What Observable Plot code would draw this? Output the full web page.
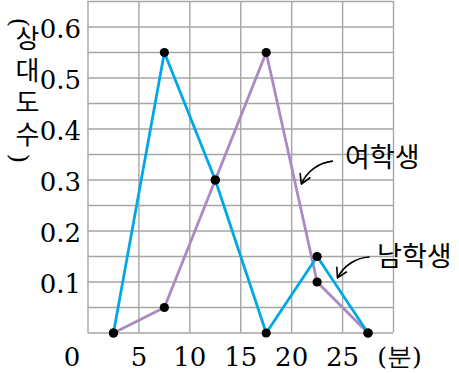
<!DOCTYPE html>
<html>
<head>
<meta charset="utf-8">
<script src="https://cdn.jsdelivr.net/npm/d3@7"></script>
<script src="https://cdn.jsdelivr.net/npm/@observablehq/plot@0.6"></script>
<style>
  html, body { margin: 0; padding: 0; background: #fff; }
</style>
</head>
<body>
<div id="chart"></div>
<script>
// Class midpoints (minutes)
const minutes = [2.5, 7.5, 12.5, 17.5, 22.5, 27.5];
// Relative frequencies
const boys  = [0, 0.55, 0.3, 0, 0.15, 0];   // 남학생
const girls = [0, 0.05, 0.3, 0.55, 0.1, 0]; // 여학생

const xTicks = [5, 10, 15, 20, 25];
const yTicks = [0.1, 0.2, 0.3, 0.4, 0.5, 0.6];
const xGrid = [0, 5, 10, 15, 20, 25, 30];
const yGrid = d3.range(0, 14).map(i => +(i * 0.05).toFixed(2));

const yLabel = "상\n대\n도\n수";
const yParens = ["(", ")"];
const xUnit = "(분)";

// annotations (data units)
const labels = [
  {text: "여학생", x: 28.9, y: 0.342},
  {text: "남학생", x: 32.05, y: 0.149}
];
const arrows = [
  {x1: 24.0, y1: 0.337, x2: 20.95, y2: 0.292},
  {x1: 27.6, y1: 0.149, x2: 24.5, y2: 0.108}
];

const boyData = minutes.map((m, i) => ({x: m, y: boys[i]}));
const girlData = minutes.map((m, i) => ({x: m, y: girls[i]}));

const serif = "DejaVu Serif";
const kr = "Noto Sans CJK KR";

const plot = Plot.plot({
  width: 459,
  height: 374,
  marginLeft: 87.5,
  marginRight: 66,
  marginTop: 1,
  marginBottom: 41.5,
  x: {domain: [0, 30], axis: null},
  y: {domain: [0, 0.65], axis: null},
  style: {fontSize: "26px", background: "#fff", overflow: "visible"},
  marks: [
    Plot.ruleX(xGrid, {stroke: "#a6a6a6", strokeWidth: 1.4, strokeOpacity: 1}),
    Plot.ruleY(yGrid, {stroke: "#a6a6a6", strokeWidth: 1.4, strokeOpacity: 1}),
    Plot.line(girlData, {x: "x", y: "y", stroke: "#a88bc4", strokeWidth: 2.8}),
    Plot.line(boyData, {x: "x", y: "y", stroke: "#00a9e6", strokeWidth: 2.8}),
    Plot.dot(girlData, {x: "x", y: "y", r: 4.6, fill: "#000"}),
    Plot.dot(boyData, {x: "x", y: "y", r: 4.6, fill: "#000"}),
    // y tick labels
    Plot.text(yTicks, {x: 0, y: d => d, text: d => d.toFixed(1), textAnchor: "end", dx: -7, dy: 3, fontSize: 26, fontFamily: serif}),
    // x tick labels
    Plot.text(xTicks, {x: d => d, y: 0, text: d => String(d), dy: 25, fontSize: 26, fontFamily: serif}),
    Plot.text([0], {x: d => d, y: 0, text: d => String(d), dx: -16, dy: 25, fontSize: 26, fontFamily: serif}),
    Plot.text([xUnit], {x: 30, y: 0, text: d => d, dx: 6, dy: 24, fontSize: 25, fontFamily: serif}),
    // y axis label (vertical)
    Plot.text([yParens[0]], {frameAnchor: "top-left", text: d => d, dx: -69, dy: 16, rotate: 90, lineAnchor: "middle", fontSize: 25, fontFamily: serif}),
    Plot.text([yLabel], {frameAnchor: "top-left", text: d => d, dx: -72.5, dy: 84.5, lineAnchor: "middle", lineHeight: 1.23, fontSize: 26, fontFamily: kr}),
    Plot.text([yParens[1]], {frameAnchor: "top-left", text: d => d, dx: -69, dy: 152, rotate: 90, lineAnchor: "middle", fontSize: 25, fontFamily: serif}),
    // annotations
    Plot.arrow(arrows, {x1: "x1", y1: "y1", x2: "x2", y2: "y2", bend: -30, stroke: "#000", strokeWidth: 1.6, headLength: 10}),
    Plot.text(labels, {x: "x", y: "y", text: "text", fontSize: 27, fontFamily: kr})
  ]
});
document.getElementById("chart").appendChild(plot);
</script>
</body>
</html>
